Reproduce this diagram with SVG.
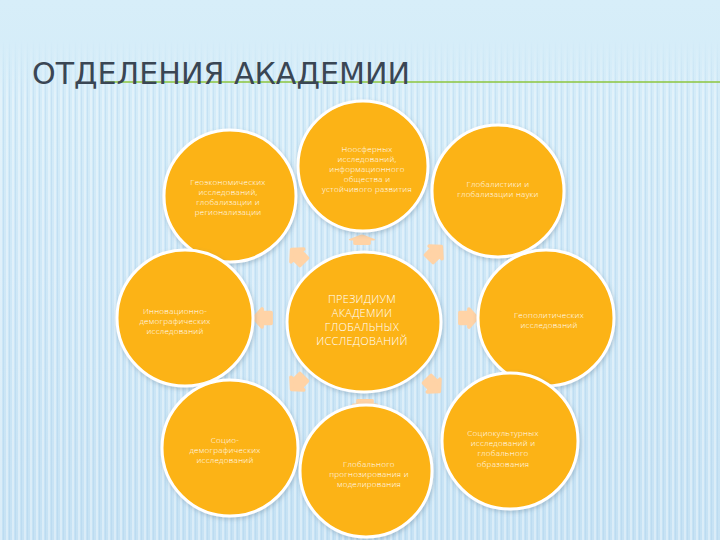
<svg xmlns="http://www.w3.org/2000/svg" width="720" height="540" viewBox="0 0 720 540">
<defs>
<linearGradient id="bg" x1="0" y1="0" x2="0" y2="1">
<stop offset="0" stop-color="#D7EEF9"/>
<stop offset="0.5" stop-color="#CFE8F7"/>
<stop offset="1" stop-color="#C6E2F4"/>
</linearGradient>
<pattern id="stripes" width="6" height="540" patternUnits="userSpaceOnUse">
<rect x="0" y="0" width="2" height="540" fill="#FFFFFF" opacity="0.35"/>
<rect x="3" y="0" width="1" height="540" fill="#A9CFEA" opacity="0.35"/>
</pattern>
<linearGradient id="stripeFade" x1="0" y1="0" x2="0" y2="1">
<stop offset="0" stop-color="#fff" stop-opacity="0"/>
<stop offset="0.12" stop-color="#fff" stop-opacity="1"/>
<stop offset="1" stop-color="#fff" stop-opacity="1"/>
</linearGradient>
<mask id="fade">
<rect x="0" y="40" width="720" height="500" fill="url(#stripeFade)"/>
</mask>
<filter id="shadow" x="-20%" y="-20%" width="140%" height="140%">
<feDropShadow dx="1" dy="2" stdDeviation="2" flood-color="#5A7A90" flood-opacity="0.35"/>
</filter>
<path id="arw" d="M-9,-6 L1,-6 L1,-10 L10,0 L1,10 L1,6 L-9,6 Z"/>
</defs>
<style>
.node{fill:#FCB314;stroke:#FFFFFF;stroke-width:3;filter:url(#shadow)}
.lbl{font-family:"Open Sans","Liberation Sans",Arial,sans-serif;font-weight:300;font-size:8px;fill:#FFFFFF;text-anchor:middle;letter-spacing:0.3px}
.big{font-family:"Open Sans","Liberation Sans",Arial,sans-serif;font-weight:300;font-size:11px;fill:#FFFFFF;text-anchor:middle;letter-spacing:0.3px}
.arrow{fill:#FFD3A6;stroke:#FFD3A6;stroke-width:4;stroke-linejoin:round}
.title{font-family:"DejaVu Sans","Liberation Sans",sans-serif;font-size:30px;fill:#3A4654}
</style>
<rect width="720" height="540" fill="url(#bg)"/>
<rect x="0" y="40" width="720" height="500" fill="url(#stripes)" mask="url(#fade)"/>
<g id="title">
<line x1="105" y1="82" x2="720" y2="82" stroke="#8CC63E" stroke-width="1.5"/>
<text class="title" x="32" y="84" textLength="378" lengthAdjust="spacingAndGlyphs">ОТДЕЛЕНИЯ АКАДЕМИИ</text>
</g>
<g id="connectors">
<use href="#arw" class="arrow" transform="translate(298,256) rotate(-135) scale(0.9)"/>
<use href="#arw" class="arrow" transform="translate(362,240) rotate(-90) scale(0.45,1.1)"/>
<use href="#arw" class="arrow" transform="translate(435,253) rotate(-45) scale(0.9)"/>
<use href="#arw" class="arrow" transform="translate(263,318) rotate(180) scale(0.9)"/>
<use href="#arw" class="arrow" transform="translate(468,318) scale(0.9)"/>
<use href="#arw" class="arrow" transform="translate(298,383) rotate(135) scale(0.9)"/>
<use href="#arw" class="arrow" transform="translate(365,404) rotate(90) scale(0.45,1.1)"/>
<use href="#arw" class="arrow" transform="translate(433,385) rotate(45) scale(0.9)"/>
</g>
<g id="n-top-left">
<circle class="node" cx="230" cy="196" r="66"/>
<text class="lbl" x="228" y="185">Геоэкономических</text>
<text class="lbl" x="228" y="195">исследований,</text>
<text class="lbl" x="228" y="205">глобализации и</text>
<text class="lbl" x="228" y="215">регионализации</text>
</g>
<g id="n-top">
<circle class="node" cx="363" cy="166" r="65"/>
<text class="lbl" x="367" y="152">Ноосферных</text>
<text class="lbl" x="367" y="162">исследований,</text>
<text class="lbl" x="367" y="172">информационного</text>
<text class="lbl" x="367" y="182">общества и</text>
<text class="lbl" x="367" y="192">устойчивого развития</text>
</g>
<g id="n-top-right">
<circle class="node" cx="498" cy="191" r="66"/>
<text class="lbl" x="498" y="187">Глобалистики и</text>
<text class="lbl" x="498" y="197">глобализации науки</text>
</g>
<g id="n-left">
<circle class="node" cx="185" cy="318" r="68"/>
<text class="lbl" x="175" y="314">Инновационно-</text>
<text class="lbl" x="175" y="324">демографических</text>
<text class="lbl" x="175" y="334">исследований</text>
</g>
<g id="n-center">
<ellipse class="node" cx="364" cy="322" rx="77" ry="70"/>
<text class="big" x="362" y="303">ПРЕЗИДИУМ</text>
<text class="big" x="362" y="317">АКАДЕМИИ</text>
<text class="big" x="362" y="331">ГЛОБАЛЬНЫХ</text>
<text class="big" x="362" y="345">ИССЛЕДОВАНИЙ</text>
</g>
<g id="n-right">
<circle class="node" cx="546" cy="318" r="68"/>
<text class="lbl" x="549" y="318">Геополитических</text>
<text class="lbl" x="549" y="328">исследований</text>
</g>
<g id="n-bottom-left">
<circle class="node" cx="230" cy="448" r="68"/>
<text class="lbl" x="225" y="443">Социо-</text>
<text class="lbl" x="225" y="453">демографических</text>
<text class="lbl" x="225" y="463">исследований</text>
</g>
<g id="n-bottom">
<circle class="node" cx="366" cy="471" r="66"/>
<text class="lbl" x="369" y="467">Глобального</text>
<text class="lbl" x="369" y="477">прогнозирования и</text>
<text class="lbl" x="369" y="487">моделирования</text>
</g>
<g id="n-bottom-right">
<circle class="node" cx="510" cy="441" r="68"/>
<text class="lbl" x="503" y="436">Социокультурных</text>
<text class="lbl" x="503" y="446">исследований и</text>
<text class="lbl" x="503" y="456">глобального</text>
<text class="lbl" x="503" y="467">образования</text>
</g>
</svg>
